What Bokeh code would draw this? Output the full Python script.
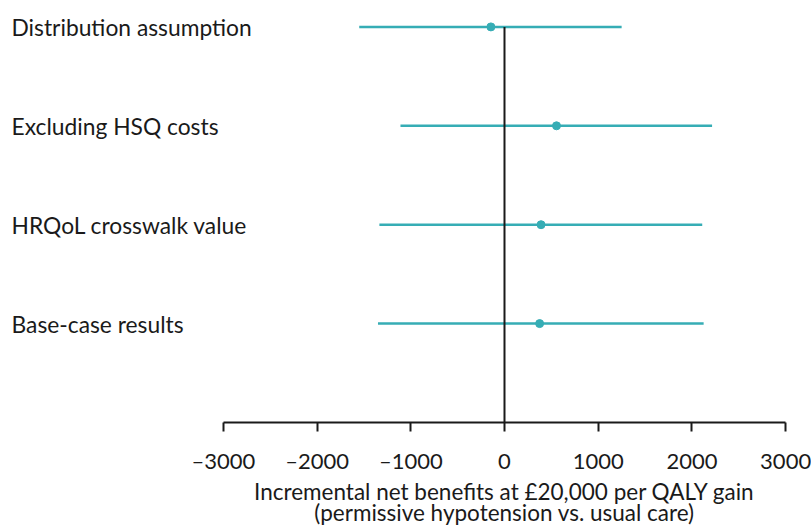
from bokeh.plotting import figure
from bokeh.models import ColumnDataSource, Range1d, FixedTicker, LabelSet, Label
from bokeh.embed import file_html
from bokeh.resources import INLINE
from bokeh.core.properties import value

# ---- data ----
scenarios = ["Base-case results", "HRQoL crosswalk value", "Excluding HSQ costs", "Distribution assumption"]
row_pos = [1, 2, 3, 4]
point_est = [375, 390, 555, -145]
lower_ci = [-1350, -1335, -1110, -1550]
upper_ci = [2125, 2110, 2215, 1250]
tick_values = [-3000, -2000, -1000, 0, 1000, 2000, 3000]
tick_labels = ["\u20133000", "\u20132000", "\u20131000", "0", "1000", "2000", "3000"]
x_title_lines = ["Incremental net benefits at \u00a320,000 per QALY gain",
                 "(permissive hypotension vs. usual care)"]

TEAL = "#36adb5"
INK = "#1a1a1a"
FONT = "Lato"

src = ColumnDataSource(dict(name=scenarios, y=row_pos, est=point_est, lo=lower_ci, hi=upper_ci))

p = figure(width=811, height=527, output_backend="svg", toolbar_location=None,
           x_range=Range1d(-5378, 3276), y_range=Range1d(-1.0617, 4.267),
           min_border_left=0, min_border_right=0, min_border_top=0, min_border_bottom=0)
p.outline_line_color = None
p.xgrid.visible = False
p.ygrid.visible = False
p.yaxis.visible = False

p.segment(x0="lo", x1="hi", y0="y", y1="y", source=src, line_color=TEAL, line_width=2.5)
zero = ColumnDataSource(dict(x=[0], y0=[0], y1=[max(row_pos)]))
p.segment(x0="x", x1="x", y0="y0", y1="y1", source=zero, line_color=INK, line_width=2)
p.scatter(x="est", y="y", source=src, size=8, fill_color=TEAL, line_color=TEAL)

labels = LabelSet(x=11, y="y", x_units="screen", text="name", source=src,
                  text_font=value(FONT), text_font_size="22.8px", text_color=INK,
                  text_baseline="middle", text_align="left")
p.add_layout(labels)

ax = p.xaxis[0]
ax.fixed_location = 0
ax.bounds = (-3000, 3000)
ax.ticker = FixedTicker(ticks=tick_values)
ax.major_label_overrides = {v: l for v, l in zip(tick_values, tick_labels)}
ax.minor_tick_line_color = None
ax.major_tick_in = 0
ax.major_tick_out = 9
ax.axis_line_width = 2
ax.major_tick_line_width = 2
ax.axis_line_color = INK
ax.major_tick_line_color = INK
ax.major_label_standoff = 16
ax.major_label_text_font = FONT
ax.major_label_text_font_size = "22px"
ax.major_label_text_color = INK

for line, yy in zip(x_title_lines, [-0.70, -0.905]):
    p.add_layout(Label(x=0, y=yy, text=line, text_font=FONT, text_font_size="22.5px",
                       text_color=INK, text_align="center", text_baseline="middle"))

open("out.html", "w").write(file_html(p, INLINE))
